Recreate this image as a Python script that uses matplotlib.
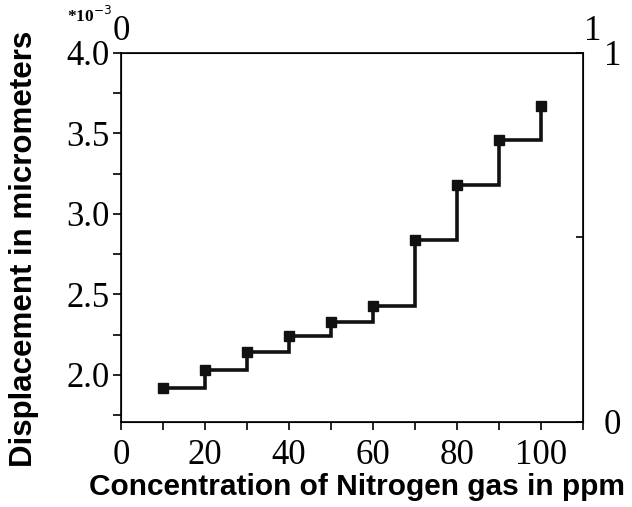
import matplotlib
matplotlib.use("Agg")
import matplotlib.pyplot as plt
from matplotlib.ticker import MultipleLocator

# concentration (ppm) and displacement (x 1e-3 micrometers)
concentration = [10, 20, 30, 40, 50, 60, 70, 80, 90, 100]
displacement = [1.92, 2.03, 2.14, 2.24, 2.33, 2.43, 2.84, 3.18, 3.46, 3.67]

serif = "Liberation Serif"
sans = "Liberation Sans"
tick_fs = 25

fig = plt.figure(figsize=(6.32, 5.07), dpi=100)
ax = fig.add_axes([0.1915, 0.1677, 0.731, 0.728])

ax.plot(concentration, displacement, drawstyle="steps-post", color="#111111",
        lw=2.6, marker="s", ms=7, solid_joinstyle="miter")

ax.set_xlim(0, 110)
ax.set_ylim(1.707, 4.0)
ax.xaxis.set_minor_locator(MultipleLocator(10))
ax.yaxis.set_minor_locator(MultipleLocator(0.25))
ax.set_xticks([0, 20, 40, 60, 80, 100])
ax.set_yticks([2.0, 2.5, 3.0, 3.5, 4.0])
ax.set_yticklabels(["2.0", "2.5", "3.0", "3.5", "4.0"])

ax.tick_params(which="both", direction="out", width=1.2, length=6,
               top=False, right=False)
ax.tick_params(axis="x", pad=6)
ax.tick_params(axis="y", pad=2)
for lab in ax.get_xticklabels() + ax.get_yticklabels():
    lab.set_fontfamily(serif)
    lab.set_fontsize(tick_fs)
for sp in ax.spines.values():
    sp.set_linewidth(1.2)

ax.set_xlabel("Concentration of Nitrogen gas in ppm", fontfamily=sans,
              fontweight="bold", fontsize=21.5)
ax.set_ylabel("Displacement in micrometers", fontfamily=sans,
              fontweight="bold", fontsize=22.5)
ax.xaxis.set_label_coords(0.51, -0.138)
ax.yaxis.set_label_coords(-0.178, 0.47)

# multiplier note above the y axis
fig.text(0.106, 0.968, r"*10$^{-3}$", fontfamily=serif, fontsize=12.5,
         fontweight="bold", ha="left", va="center")

# empty right axis 0..1
axr = ax.twinx()
axr.set_ylim(0, 1)
axr.set_yticks([0, 0.5, 1])
axr.set_yticklabels(["0", "", "1"])
axr.tick_params(axis="y", direction="in", length=5, width=1.2, pad=15)
for lab in axr.get_yticklabels():
    lab.set_fontfamily(serif)
    lab.set_fontsize(tick_fs)

# empty top axis, labels only
for xpos, txt in [(0.0, "0"), (1.02, "1")]:
    ax.text(xpos, 1.035, txt, transform=ax.transAxes, ha="center",
            va="baseline", fontfamily=serif, fontsize=tick_fs)

fig.savefig("out.png", dpi=100)
